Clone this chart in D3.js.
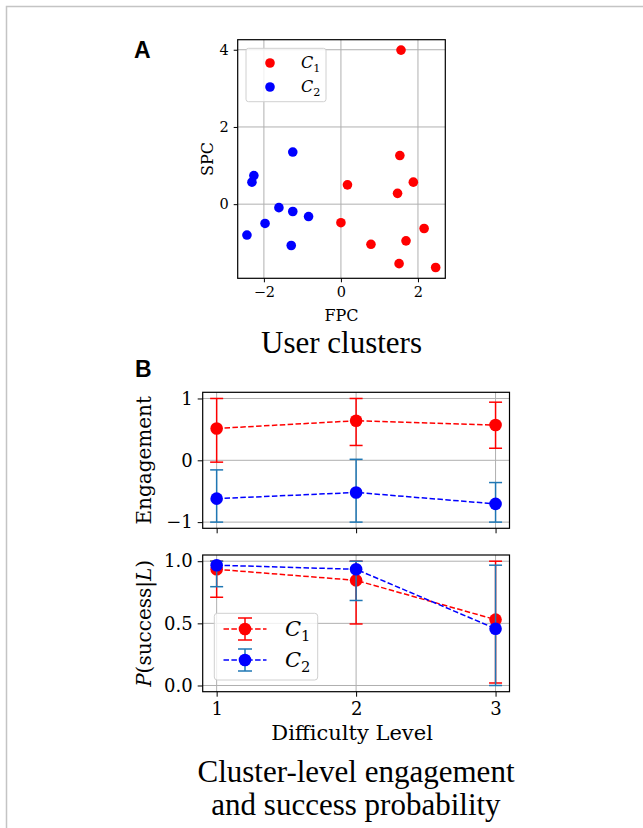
<!DOCTYPE html>
<html><head><meta charset="utf-8">
<script src="https://cdn.jsdelivr.net/npm/d3@7"></script>
<style>
html,body{margin:0;padding:0;background:#fff;}
svg{display:block;}
</style></head>
<body>
<svg id="chart" width="643" height="828"></svg>
<script>
// ---- Panel A data (user clusters) ----
const c1FPC = [1.56, 1.53, 1.88, 1.47, 0.17, 0.00, 0.78, 1.69, 2.16, 1.51, 2.46];
const c1SPC = [3.99, 1.26, 0.57, 0.28, 0.50, -0.48, -1.04, -0.95, -0.63, -1.54, -1.64];
const c2FPC = [-1.25, -2.26, -2.31, -1.61, -1.25, -0.84, -1.97, -2.44, -1.29];
const c2SPC = [1.35, 0.74, 0.57, -0.09, -0.19, -0.32, -0.50, -0.80, -1.07];
const aXTicks = [-2, 0, 2];
const aYTicks = [0, 2, 4];

// ---- Panel B data ----
const levels = [1, 2, 3];
const engC1 = [0.515, 0.64, 0.57];
const engC1Lo = [-0.03, 0.24, 0.195];
const engC1Hi = [1.0, 1.0, 0.94];
const engC2 = [-0.62, -0.52, -0.705];
const engC2Lo = [-1.0, -1.0, -1.0];
const engC2Hi = [-0.155, 0.016, -0.36];
const succC1 = [0.935, 0.846, 0.53];
const succC1Lo = [0.71, 0.495, 0.02];
const succC1Hi = [1.0, 1.0, 1.0];
const succC2 = [0.968, 0.935, 0.457];
const succC2Lo = [0.795, 0.684, 0.0];
const succC2Hi = [1.0, 1.0, 0.968];
const engTicks = [-1, 0, 1];
const succTicks = [0, 0.5, 1];
const seriesNames = ["C1", "C2"];

const svg = d3.select("#chart");
const SERIF = "'DejaVu Serif', serif";
const TIMES = "'Liberation Serif', 'Times New Roman', serif";
const RED = "#ff0000", BLUE = "#0000ff", ERRBLUE = "#1f77b4", GRID = "#b0b0b0";

// outer frame
svg.append("path").attr("d", "M6.5,840 V6.5 H660").attr("fill", "none")
  .attr("stroke", "#c4c4c4").attr("stroke-width", 1.5);

// panel letters
svg.append("text").attr("x", 134).attr("y", 58).text("A")
  .attr("font-family", "'Liberation Sans', Arial, sans-serif").attr("font-weight", "bold").attr("font-size", 23);
svg.append("text").attr("x", 135).attr("y", 377).text("B")
  .attr("font-family", "'Liberation Sans', Arial, sans-serif").attr("font-weight", "bold").attr("font-size", 23);

function fmtMinus(v) { return String(v).replace("-", "\u2212"); }

function styleAxis(g, fs) {
  g.select(".domain").remove();
  g.selectAll(".tick line").attr("stroke", "#000").attr("stroke-width", 1);
  g.selectAll(".tick text").attr("font-family", SERIF).attr("font-size", fs).attr("fill", "#000");
}

function grid(g, x, y, xt, yt, x0, x1, y0, y1) {
  xt.forEach(t => g.append("line").attr("x1", x(t)).attr("x2", x(t)).attr("y1", y0).attr("y2", y1)
    .attr("stroke", GRID).attr("stroke-width", 1));
  yt.forEach(t => g.append("line").attr("y1", y(t)).attr("y2", y(t)).attr("x1", x0).attr("x2", x1)
    .attr("stroke", GRID).attr("stroke-width", 1));
}

function subLabel(sel, x, y, name, fs) {
  const t = sel.append("text").attr("x", x).attr("y", y).attr("font-family", SERIF).attr("font-size", fs);
  t.append("tspan").attr("font-style", "italic").text(name[0]);
  t.append("tspan").attr("font-size", fs * 0.7).attr("dy", fs * 0.22).text(name.slice(1));
}

// ================= Panel A =================
{
  const L = 237.7, R = 445.3, T = 39.7, B = 278.3;
  const x = d3.scaleLinear().domain([-2.68, 2.71]).range([L, R]);
  const y = d3.scaleLinear().domain([-1.92, 4.26]).range([B, T]);
  const g = svg.append("g");
  grid(g, x, y, aXTicks, aYTicks, L, R, T, B);

  const ax = g.append("g").attr("transform", `translate(0,${B})`)
    .call(d3.axisBottom(x).tickValues(aXTicks).tickSize(4).tickPadding(4).tickFormat(fmtMinus));
  styleAxis(ax, 14.5);
  const ay = g.append("g").attr("transform", `translate(${L},0)`)
    .call(d3.axisLeft(y).tickValues(aYTicks).tickSize(4).tickPadding(5).tickFormat(fmtMinus));
  styleAxis(ay, 14.5);

  g.selectAll(".c1").data(c1FPC).enter().append("circle")
    .attr("cx", d => x(d)).attr("cy", (d, i) => y(c1SPC[i])).attr("r", 4.8).attr("fill", RED);
  g.selectAll(".c2").data(c2FPC).enter().append("circle")
    .attr("cx", d => x(d)).attr("cy", (d, i) => y(c2SPC[i])).attr("r", 4.8).attr("fill", BLUE);

  g.append("rect").attr("x", L).attr("y", T).attr("width", R - L).attr("height", B - T)
    .attr("fill", "none").attr("stroke", "#000").attr("stroke-width", 1.2);

  // legend
  const lg = g.append("g");
  lg.append("rect").attr("x", 246).attr("y", 48.3).attr("width", 80).attr("height", 53.4).attr("rx", 2.5)
    .attr("fill", "#fff").attr("fill-opacity", 0.8).attr("stroke", "#d0d0d0").attr("stroke-width", 1);
  [RED, BLUE].forEach((c, i) => {
    lg.append("circle").attr("cx", 270).attr("cy", 63 + i * 24).attr("r", 4.8).attr("fill", c);
    subLabel(lg, 301, 68 + i * 24, seriesNames[i], 16);
  });

  g.append("text").attr("x", (L + R) / 2).attr("y", 321).attr("text-anchor", "middle")
    .attr("font-family", SERIF).attr("font-size", 16).text("FPC");
  g.append("text").attr("transform", `translate(213,${(T + B) / 2}) rotate(-90)`).attr("text-anchor", "middle")
    .attr("font-family", SERIF).attr("font-size", 16).text("SPC");

  svg.append("text").attr("x", 341.5).attr("y", 353).attr("text-anchor", "middle")
    .attr("font-family", TIMES).attr("font-size", 31).text("User clusters");
}

// ================= Panel B =================
const bL = 202.7, bR = 509.5;
const bx = d3.scaleLinear().domain([0.9, 3.1]).range([bL, bR]);

function errSeries(g, y, vals, lo, hi, mcolor, ecolor, r) {
  const line = d3.line().x((d, i) => bx(levels[i])).y(d => y(d));
  g.append("path").attr("d", line(vals)).attr("fill", "none").attr("stroke", mcolor)
    .attr("stroke-width", 1.5).attr("stroke-dasharray", "5.5,2.4");
  levels.forEach((lv, i) => {
    const cx = bx(lv);
    g.append("line").attr("x1", cx).attr("x2", cx).attr("y1", y(lo[i])).attr("y2", y(hi[i]))
      .attr("stroke", ecolor).attr("stroke-width", 1.5);
    [lo[i], hi[i]].forEach(v => g.append("line").attr("x1", cx - 6.5).attr("x2", cx + 6.5)
      .attr("y1", y(v)).attr("y2", y(v)).attr("stroke", ecolor).attr("stroke-width", 1.5));
  });
  g.selectAll(null).data(vals).enter().append("circle")
    .attr("cx", (d, i) => bx(levels[i])).attr("cy", d => y(d)).attr("r", r).attr("fill", mcolor);
}

function panelB(T, B, yDom, yTicks, fmt, showX) {
  const y = d3.scaleLinear().domain(yDom).range([B, T]);
  const g = svg.append("g");
  grid(g, bx, y, levels, yTicks, bL, bR, T, B);
  const ax = g.append("g").attr("transform", `translate(0,${B})`)
    .call(d3.axisBottom(bx).tickValues(levels).tickSize(5).tickPadding(6).tickFormat(showX ? d3.format("d") : ""));
  styleAxis(ax, 18);
  const ay = g.append("g").attr("transform", `translate(${bL},0)`)
    .call(d3.axisLeft(y).tickValues(yTicks).tickSize(5).tickPadding(5).tickFormat(fmt));
  styleAxis(ay, 18);
  return { g, y };
}

// top: engagement
{
  const T = 392.3, B = 528.3;
  const { g, y } = panelB(T, B, [-1.1, 1.1], engTicks, fmtMinus, false);
  errSeries(g, y, engC1, engC1Lo, engC1Hi, RED, RED, 6.3);
  errSeries(g, y, engC2, engC2Lo, engC2Hi, BLUE, ERRBLUE, 6.3);
  g.append("rect").attr("x", bL).attr("y", T).attr("width", bR - bL).attr("height", B - T)
    .attr("fill", "none").attr("stroke", "#000").attr("stroke-width", 1.2);
  g.append("text").attr("transform", `translate(151,${(T + B) / 2}) rotate(-90)`).attr("text-anchor", "middle")
    .attr("font-family", SERIF).attr("font-size", 20).text("Engagement");
}

// bottom: success probability
{
  const T = 555, B = 691.7;
  const { g, y } = panelB(T, B, [-0.05, 1.05], succTicks, d3.format(".1f"), true);
  errSeries(g, y, succC1, succC1Lo, succC1Hi, RED, RED, 6.3);
  errSeries(g, y, succC2, succC2Lo, succC2Hi, BLUE, ERRBLUE, 6.3);
  g.append("rect").attr("x", bL).attr("y", T).attr("width", bR - bL).attr("height", B - T)
    .attr("fill", "none").attr("stroke", "#000").attr("stroke-width", 1.2);

  // legend
  const lg = g.append("g");
  lg.append("rect").attr("x", 214.3).attr("y", 613.3).attr("width", 103.4).attr("height", 66.7).attr("rx", 3)
    .attr("fill", "#fff").attr("fill-opacity", 0.8).attr("stroke", "#d0d0d0").attr("stroke-width", 1);
  [[RED, RED], [BLUE, ERRBLUE]].forEach((c, i) => {
    const cy = 629 + i * 31;
    lg.append("line").attr("x1", 223.5).attr("x2", 266.5).attr("y1", cy).attr("y2", cy)
      .attr("stroke", c[0]).attr("stroke-width", 1.5).attr("stroke-dasharray", "5.5,2.4");
    lg.append("line").attr("x1", 245).attr("x2", 245).attr("y1", cy - 11).attr("y2", cy + 11)
      .attr("stroke", c[1]).attr("stroke-width", 1.5);
    [cy - 11, cy + 11].forEach(v => lg.append("line").attr("x1", 238).attr("x2", 252).attr("y1", v).attr("y2", v)
      .attr("stroke", c[1]).attr("stroke-width", 1.5));
    lg.append("circle").attr("cx", 245).attr("cy", cy).attr("r", 6.3).attr("fill", c[0]);
    subLabel(lg, 285, cy + 7, seriesNames[i], 21);
  });

  const yl = g.append("text").attr("transform", `translate(151,${(T + B) / 2}) rotate(-90)`).attr("text-anchor", "middle")
    .attr("font-family", SERIF).attr("font-size", 20);
  yl.append("tspan").attr("font-style", "italic").text("P");
  yl.append("tspan").text("(success|");
  yl.append("tspan").attr("font-style", "italic").text("L");
  yl.append("tspan").text(")");

  g.append("text").attr("x", (bL + bR) / 2 - 4).attr("y", 740).attr("text-anchor", "middle")
    .attr("font-family", SERIF).attr("font-size", 21).text("Difficulty Level");
}

svg.append("text").attr("x", 356).attr("y", 782).attr("text-anchor", "middle")
  .attr("font-family", TIMES).attr("font-size", 31).text("Cluster-level engagement");
svg.append("text").attr("x", 356).attr("y", 815).attr("text-anchor", "middle")
  .attr("font-family", TIMES).attr("font-size", 31).text("and success probability");
</script>
</body></html>
